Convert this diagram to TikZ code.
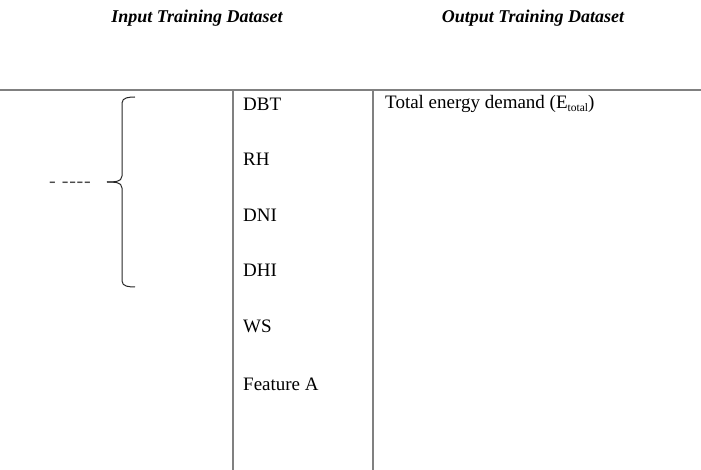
\documentclass[tikz,border=0pt]{standalone}
\usepackage{fontspec}
\setmainfont{Liberation Serif}
\usetikzlibrary{positioning}

\begin{document}
\begin{tikzpicture}[x=1pt, y=-1pt, node distance=55.5pt, on grid,
	rule/.style={draw=gray, line width=1.3pt},
	brace/.style={draw=black!85, line width=1pt},
	item/.style={anchor=west, inner sep=0pt, font=\fontsize{19}{22}\selectfont},
	head/.style={inner sep=0pt, font=\fontsize{18}{22}\selectfont\bfseries\itshape}]
				\useasboundingbox (0,0) rectangle (701,470);
				
				\node[head] (h_in) at (197,18) {Input Training Dataset};
				\node[head] (h_out) at (533,18) {Output Training Dataset};
				
				\node[item] (dbt) at (243,104) {DBT};
				\node[item] (rh) [below=of dbt.west, anchor=west] {RH};
				\node[item] (dni) [below=of rh.west, anchor=west] {DNI};
				\node[item] (dhi) [below=of dni.west, anchor=west] {DHI};
				\node[item] (ws) [below=of dhi.west, anchor=west] {WS};
				\node[item] (feat) [below=of ws.west, anchor=west, yshift=-3pt] {Feature A};
				\node[item] (etot) at (385,104) {Total energy demand (E\raisebox{-2.5pt}{\fontsize{11.5}{12}\selectfont total})};
				
				\node[inner sep=0pt, text=black!70, font=\fontsize{20}{20}\selectfont] (cut) at (70,185) {-\kern6pt-\kern0.8pt-\kern0.8pt-\kern0.8pt-};
				
				\coordinate (r_l) at (0,90);
				\coordinate (r_r) at (701,90);
				\coordinate (c1_t) at (233,90);
				\coordinate (c1_b) at (233,470);
				\coordinate (c2_t) at (373,90);
				\coordinate (c2_b) at (373,470);
				\draw[rule] (r_l) -- (r_r);
				\draw[rule] (c1_t) -- (c1_b);
				\draw[rule] (c2_t) -- (c2_b);
				
				\coordinate (b_top) at (135,97);
				\coordinate (b_tip) at (107,182);
				\coordinate (b_bot) at (135,287);
				\draw[brace] (b_top) to[out=180,in=90] (122,103) -- (122,176) to[out=-90,in=0] (b_tip);
				\draw[brace] (b_tip) to[out=0,in=90] (122,188) -- (122,281) to[out=-90,in=180] (b_bot);
			\end{tikzpicture}
\end{document}
